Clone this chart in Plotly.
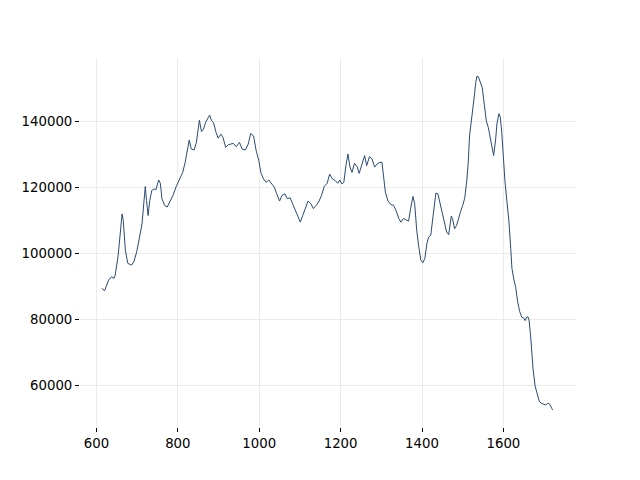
import plotly.graph_objects as go

x_vals = [613, 620, 630, 636.6, 643, 646, 653, 658, 663, 666, 671, 677, 686, 692, 699, 706, 712, 717, 720, 723,
          727, 731, 736, 741, 746, 753, 757, 761, 767.5, 774, 780, 788, 796, 804, 812, 818, 823, 828, 833, 840,
          845.6, 853, 858, 863, 868, 873, 878, 883, 887.7, 894, 899, 906, 911, 917.5, 924, 930, 937, 943.5, 951.5, 958,
          966, 973, 979, 986, 992.5, 999, 1004, 1010.5, 1017, 1023.5, 1030, 1037, 1043, 1050, 1056, 1063, 1069, 1076, 1082, 1089,
          1096, 1101, 1107, 1114, 1120, 1127, 1133, 1140, 1146, 1153, 1160, 1167, 1173, 1180, 1187, 1193, 1198, 1203, 1208, 1213,
          1218, 1223, 1228, 1234, 1241, 1245.6, 1252, 1259, 1264, 1271, 1277, 1283.7, 1290, 1296.7, 1301.6, 1305, 1310, 1316.5, 1323, 1330,
          1336, 1343, 1348, 1354, 1361, 1367, 1372, 1377.7, 1382, 1387, 1392, 1397, 1402, 1407, 1412, 1416.5, 1421.5, 1426, 1431, 1434,
          1439, 1444, 1449, 1455.6, 1460.5, 1465.5, 1472, 1475, 1480, 1485, 1490, 1495, 1500, 1505, 1510, 1513.6, 1516.8, 1521.8, 1525, 1528.6,
          1532, 1535, 1538.6, 1543.6, 1548, 1553, 1558, 1563, 1568, 1573, 1576, 1581, 1584, 1589, 1592.5, 1596, 1599, 1604, 1608.8, 1613.7,
          1618, 1621, 1626, 1630, 1635, 1640, 1645, 1650, 1653.6, 1657, 1660, 1663, 1666.7, 1670, 1673, 1678, 1683, 1688, 1693, 1698,
          1704, 1709, 1714, 1719, 1721]

y_vals = [89400, 88700, 91900, 92900, 92400, 93400, 99000, 106000, 112000, 110000, 101000, 97000, 96450, 97450, 100500, 105000, 109000, 116100, 120300, 116100,
          111500, 116100, 119100, 119600, 119300, 122300, 121300, 116600, 114600, 114100, 115600, 117600, 120300, 122600, 124600, 127650, 130700, 134400, 131700, 131400,
          133700, 140450, 137000, 137700, 139700, 140750, 142000, 140250, 139700, 136700, 135000, 136200, 135200, 132200, 133000, 133200, 133400, 132400, 133700, 131700,
          131400, 133200, 136400, 135700, 131200, 128150, 124600, 122600, 121600, 122300, 121100, 120100, 118100, 115900, 117600, 118100, 116600, 116900, 115100, 113100,
          110900, 109500, 111550, 114050, 115900, 115100, 113600, 114600, 115600, 117600, 120400, 121300, 124100, 122600, 122100, 121300, 122300, 121100, 121600, 126700,
          130200, 126200, 124600, 127350, 126200, 124300, 127100, 129700, 126650, 129400, 128700, 126200, 127200, 127650, 127650, 124100, 118600, 115900, 114900, 114600,
          113100, 110600, 109500, 110600, 110250, 109800, 113600, 117300, 115100, 107000, 102000, 98000, 97150, 98500, 103000, 105000, 105500, 110050, 116600, 118300,
          118100, 115600, 112500, 109500, 106500, 105700, 111350, 110550, 107500, 108500, 111000, 112750, 114600, 116800, 122100, 127650, 135700, 141750, 144250, 147800,
          151800, 153800, 153600, 151800, 150300, 145300, 140250, 138200, 134700, 130500, 129700, 134700, 139250, 142450, 141250, 136700, 129700, 121600, 115600, 109550,
          101500, 95450, 91900, 89900, 85350, 82350, 80650, 80350, 79600, 80650, 80800, 79800, 75300, 69750, 64700, 59700, 57200, 55200, 54500, 54200,
          54000, 54500, 54200, 52900, 52450]

x_ticks = [600, 800, 1000, 1200, 1400, 1600]
y_ticks = [60000, 80000, 100000, 120000, 140000]

fig = go.Figure()
fig.add_trace(go.Scatter(x=x_vals, y=y_vals, mode="lines",
                         line=dict(color="#2a4b72", width=1), showlegend=False))

axis_common = dict(showline=False, zeroline=False, ticks="outside", ticklen=4, tickwidth=1,
                   tickcolor="black", gridcolor="#ebebeb", gridwidth=1,
                   tickfont=dict(family="DejaVu Sans", size=13.3, color="black"))

fig.update_layout(
    width=640, height=480,
    margin=dict(l=72, r=72, t=50, b=61),
    paper_bgcolor="white", plot_bgcolor="white",
    xaxis=dict(range=[559.6, 1778.4], tickvals=x_ticks, tickformat="d", **axis_common),
    yaxis=dict(range=[47300, 159330], tickvals=y_ticks, tickformat="d", **axis_common),
)

fig.write_html("out.html")
